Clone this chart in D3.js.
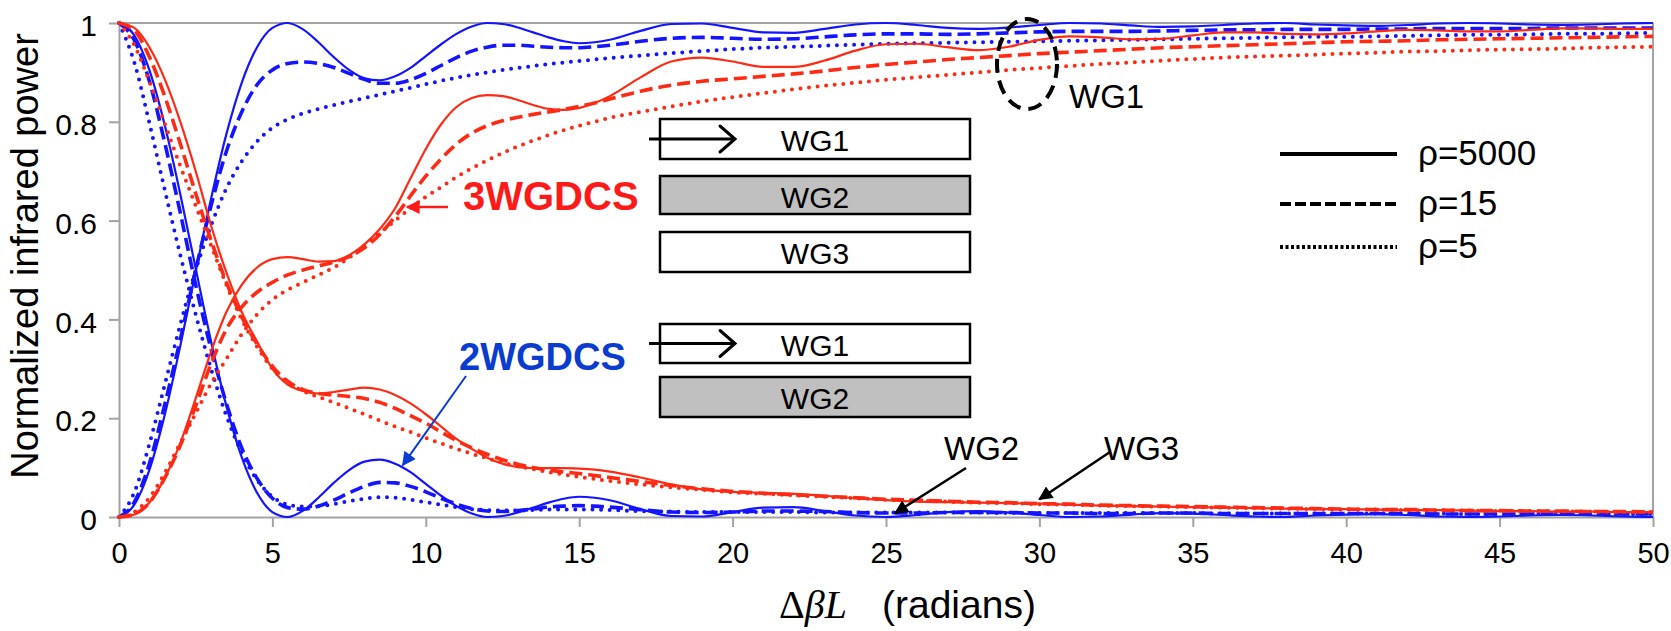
<!DOCTYPE html>
<html>
<head>
<meta charset="utf-8">
<script src="https://cdn.jsdelivr.net/npm/d3@7"></script>
<style>
  body { margin: 0; background: #fff; }
  text { font-family: "Liberation Sans", Arial, sans-serif; }
</style>
</head>
<body>
<svg id="chart"></svg>
<script>
// x grid (ΔβL, radians)
const xValues = [0,0.5,1,1.5,2,2.5,3,3.5,4,4.5,5,5.5,6,6.5,7,7.5,8,8.5,9,9.5,10,10.5,11,11.5,12,12.5,13,13.5,14,14.5,15,15.5,16,
  17,18,19,20,21,22,23,24,25,26,27,28,29,30,31,32,33,34,35,36,37,38,39,40,41,42,43,44,45,46,47,48,49,50];

// 2WGDCS (blue) - WG1 output
const blueWG1_5000 = [0,0.025,0.097,0.209,0.347,0.497,0.644,0.775,0.879,0.951,0.990,1.000,0.987,0.961,0.931,0.905,0.888,0.884,0.892,0.909,0.933,0.957,0.978,0.993,1.000,0.998,0.991,0.981,0.971,0.963,0.959,0.961,0.966,
  0.984,0.998,0.999,0.990,0.981,0.980,0.988,0.997,1.000,0.996,0.990,0.988,0.991,0.996,1.000,0.999,0.995,0.992,0.993,0.996,0.999,1.000,0.997,0.995,0.994,0.996,0.999,1.000,0.999,0.997,0.996,0.997,0.999,1.000];
const blueWG1_15 = [0,0.03,0.11,0.23,0.36,0.50,0.63,0.74,0.82,0.875,0.905,0.918,0.921,0.918,0.91,0.898,0.886,0.878,0.878,0.885,0.898,0.914,0.93,0.943,0.951,0.955,0.955,0.953,0.951,0.95,0.95,0.952,0.955,
  0.963,0.969,0.971,0.969,0.967,0.968,0.972,0.976,0.978,0.978,0.977,0.978,0.98,0.982,0.983,0.983,0.983,0.984,0.985,0.986,0.986,0.987,0.987,0.987,0.988,0.988,0.989,0.989,0.989,0.989,0.99,0.99,0.99,0.99];
const blueWG1_5 = [0,0.05,0.15,0.27,0.39,0.5,0.59,0.665,0.72,0.76,0.788,0.805,0.817,0.826,0.834,0.841,0.848,0.855,0.862,0.869,0.876,0.883,0.889,0.895,0.9,0.905,0.909,0.913,0.917,0.92,0.923,0.926,0.929,
  0.934,0.939,0.943,0.947,0.95,0.952,0.954,0.956,0.958,0.959,0.96,0.961,0.962,0.963,0.964,0.965,0.966,0.967,0.968,0.969,0.97,0.971,0.972,0.972,0.973,0.974,0.975,0.976,0.976,0.977,0.978,0.978,0.979,0.98];

// 2WGDCS (blue) - WG2 output
const blueWG2_5000 = [1,0.975,0.903,0.791,0.653,0.503,0.356,0.225,0.121,0.049,0.010,0.000,0.013,0.039,0.069,0.095,0.112,0.116,0.108,0.091,0.067,0.043,0.022,0.007,0.000,0.002,0.009,0.019,0.029,0.037,0.041,0.039,0.034,
  0.016,0.002,0.001,0.010,0.019,0.020,0.012,0.003,0.000,0.004,0.010,0.012,0.009,0.004,0.000,0.001,0.005,0.008,0.007,0.004,0.001,0.000,0.003,0.005,0.006,0.004,0.001,0.000,0.001,0.003,0.004,0.003,0.001,0.000];
const blueWG2_15 = [1,0.965,0.88,0.755,0.615,0.47,0.34,0.23,0.14,0.078,0.038,0.019,0.016,0.022,0.034,0.049,0.062,0.07,0.069,0.062,0.051,0.038,0.026,0.017,0.012,0.011,0.013,0.016,0.02,0.022,0.023,0.022,0.02,
  0.015,0.01,0.009,0.01,0.012,0.012,0.011,0.009,0.008,0.008,0.009,0.009,0.009,0.008,0.008,0.007,0.007,0.008,0.008,0.007,0.007,0.007,0.007,0.007,0.007,0.007,0.006,0.006,0.006,0.006,0.006,0.006,0.006,0.006];
const blueWG2_5 = [1,0.92,0.795,0.66,0.53,0.41,0.3,0.205,0.13,0.075,0.041,0.025,0.021,0.022,0.026,0.032,0.037,0.04,0.039,0.035,0.03,0.025,0.02,0.016,0.014,0.013,0.013,0.014,0.015,0.015,0.015,0.015,0.014,
  0.012,0.011,0.01,0.01,0.01,0.01,0.009,0.009,0.009,0.009,0.009,0.009,0.008,0.008,0.008,0.008,0.008,0.008,0.008,0.007,0.007,0.007,0.007,0.007,0.007,0.007,0.007,0.006,0.006,0.006,0.006,0.006,0.006,0.006];

// 3WGDCS (red) - WG1 output
const redWG1_5000 = [0,0.005,0.03,0.08,0.15,0.24,0.335,0.415,0.47,0.505,0.522,0.526,0.522,0.517,0.518,0.53,0.552,0.583,0.625,0.685,0.745,0.795,0.83,0.848,0.854,0.852,0.844,0.834,0.826,0.824,0.828,0.838,0.852,
  0.89,0.922,0.93,0.922,0.911,0.911,0.924,0.944,0.957,0.958,0.951,0.945,0.952,0.966,0.973,0.971,0.967,0.968,0.975,0.981,0.981,0.978,0.977,0.979,0.983,0.986,0.985,0.983,0.983,0.986,0.989,0.989,0.988,0.988];
const redWG1_15 = [0,0.006,0.03,0.08,0.145,0.225,0.31,0.38,0.425,0.455,0.475,0.49,0.5,0.508,0.516,0.527,0.545,0.572,0.608,0.65,0.69,0.725,0.755,0.777,0.792,0.802,0.809,0.815,0.82,0.825,0.831,0.838,0.846,
  0.862,0.874,0.882,0.887,0.892,0.897,0.903,0.91,0.916,0.921,0.926,0.93,0.934,0.938,0.941,0.944,0.947,0.95,0.952,0.954,0.956,0.958,0.96,0.962,0.963,0.964,0.966,0.967,0.968,0.969,0.97,0.971,0.972,0.973];
const redWG1_5 = [0,0.01,0.04,0.09,0.15,0.21,0.27,0.32,0.37,0.41,0.44,0.46,0.475,0.49,0.505,0.525,0.55,0.575,0.6,0.625,0.648,0.668,0.688,0.706,0.722,0.737,0.75,0.762,0.773,0.783,0.792,0.8,0.808,
  0.82,0.831,0.841,0.85,0.858,0.866,0.873,0.879,0.885,0.89,0.895,0.9,0.905,0.909,0.913,0.917,0.92,0.924,0.927,0.93,0.932,0.934,0.936,0.938,0.94,0.942,0.943,0.945,0.946,0.947,0.948,0.95,0.951,0.952];

// 3WGDCS (red) - WG3 output
const redWG3_5000 = [1,0.99,0.95,0.885,0.80,0.70,0.59,0.495,0.415,0.355,0.30,0.268,0.255,0.25,0.253,0.258,0.262,0.258,0.247,0.23,0.208,0.183,0.158,0.138,0.12,0.108,0.101,0.099,0.099,0.099,0.098,0.096,0.092,
  0.08,0.066,0.056,0.051,0.049,0.047,0.043,0.038,0.034,0.031,0.03,0.029,0.028,0.027,0.025,0.023,0.022,0.021,0.02,0.019,0.018,0.017,0.016,0.016,0.015,0.014,0.014,0.013,0.012,0.012,0.011,0.011,0.01,0.01];
const redWG3_15 = [1,0.985,0.93,0.85,0.755,0.655,0.56,0.475,0.405,0.35,0.305,0.275,0.258,0.25,0.247,0.244,0.24,0.232,0.22,0.205,0.19,0.172,0.155,0.14,0.127,0.116,0.107,0.1,0.095,0.091,0.088,0.084,0.08,
  0.072,0.064,0.057,0.052,0.048,0.045,0.042,0.039,0.036,0.034,0.032,0.03,0.029,0.027,0.026,0.024,0.023,0.022,0.021,0.02,0.019,0.018,0.017,0.016,0.015,0.015,0.014,0.013,0.013,0.012,0.012,0.011,0.011,0.01];
const redWG3_5 = [1,0.955,0.88,0.795,0.71,0.63,0.55,0.47,0.4,0.345,0.3,0.272,0.255,0.243,0.232,0.22,0.208,0.195,0.183,0.172,0.16,0.149,0.138,0.128,0.119,0.11,0.103,0.097,0.091,0.086,0.081,0.077,0.073,
  0.066,0.06,0.055,0.05,0.047,0.044,0.041,0.038,0.035,0.033,0.031,0.029,0.028,0.026,0.025,0.023,0.022,0.021,0.02,0.019,0.018,0.017,0.016,0.015,0.015,0.014,0.013,0.013,0.012,0.012,0.011,0.011,0.01,0.01];

const xTicks = [0,5,10,15,20,25,30,35,40,45,50];
const yTicks = [0,0.2,0.4,0.6,0.8,1];
const legendLabels = ["ρ=5000","ρ=15","ρ=5"];

const width = 1671, height = 631;
const BLUE = "#1414ff", RED = "#ff2a14", AXIS = "#a3a3a3";

const styles = {
  solid:  { w: 2.2, dash: null, cap: "butt" },
  dashed: { w: 3.6, dash: "13,6", cap: "butt" },
  dotted: { w: 4, dash: "0,8.6", cap: "round" }
};

const series = [
  { v: blueWG2_5,    c: BLUE, s: "dotted" },
  { v: blueWG2_15,   c: BLUE, s: "dashed" },
  { v: blueWG2_5000, c: BLUE, s: "solid" },
  { v: blueWG1_5,    c: BLUE, s: "dotted" },
  { v: blueWG1_15,   c: BLUE, s: "dashed" },
  { v: blueWG1_5000, c: BLUE, s: "solid" },
  { v: redWG3_5,     c: RED,  s: "dotted" },
  { v: redWG3_15,    c: RED,  s: "dashed" },
  { v: redWG3_5000,  c: RED,  s: "solid" },
  { v: redWG1_5,     c: RED,  s: "dotted" },
  { v: redWG1_15,    c: RED,  s: "dashed" },
  { v: redWG1_5000,  c: RED,  s: "solid" }
];

const svg = d3.select("#chart")
  .attr("width", width)
  .attr("height", height)
  .style("background", "#fff");

const x = d3.scaleLinear().domain([0, 50]).range([119, 1653]);
const y = d3.scaleLinear().domain([0, 1]).range([517, 23]);

// plot frame (top & right)
svg.append("line").attr("x1", x(0)).attr("x2", x(50)).attr("y1", y(1)).attr("y2", y(1))
  .attr("stroke", AXIS).attr("stroke-width", 2);
svg.append("line").attr("x1", x(50)).attr("x2", x(50)).attr("y1", y(1)).attr("y2", y(0))
  .attr("stroke", AXIS).attr("stroke-width", 2);

const xAxis = svg.append("g")
  .attr("transform", `translate(0,${y(0)})`)
  .call(d3.axisBottom(x).tickValues(xTicks).tickSize(10).tickSizeOuter(0).tickPadding(15).tickFormat(d3.format("d")));
const yAxis = svg.append("g")
  .attr("transform", `translate(${x(0)},0)`)
  .call(d3.axisLeft(y).tickValues(yTicks).tickSize(10).tickSizeOuter(0).tickPadding(12).tickFormat(d => d === 0 || d === 1 ? d3.format("d")(d) : d3.format(".1f")(d)));

[xAxis, yAxis].forEach(g => {
  g.select(".domain").attr("stroke", AXIS).attr("stroke-width", 2);
  g.selectAll(".tick line").attr("stroke", AXIS).attr("stroke-width", 2);
  g.selectAll(".tick text").attr("fill", "#000").style("font-family", '"Liberation Sans", Arial, sans-serif');
});
xAxis.selectAll(".tick text").style("font-size", "29px");
yAxis.selectAll(".tick text").style("font-size", "30px").attr("dy", "0.42em");

// axis titles
const xt = svg.append("text").attr("x", 779).attr("y", 618)
  .style("font-family", '"Liberation Serif", "Times New Roman", serif').style("font-size", "40px");
xt.append("tspan").text("Δ");
xt.append("tspan").style("font-style", "italic").text("βL");
svg.append("text").attr("x", 882).attr("y", 618).style("font-size", "39px").text("(radians)");

svg.append("text")
  .attr("transform", "translate(38,256) rotate(-90)")
  .attr("text-anchor", "middle")
  .style("font-size", "38px")
  .text("Normalized infrared power");

// curves
const line = d3.line()
  .x((d, i) => x(xValues[i]))
  .y(d => y(d))
  .curve(d3.curveMonotoneX);

svg.append("g").selectAll("path")
  .data(series)
  .join("path")
  .attr("d", d => line(d.v))
  .attr("fill", "none")
  .attr("stroke", d => d.c)
  .attr("stroke-width", d => styles[d.s].w)
  .attr("stroke-dasharray", d => styles[d.s].dash)
  .attr("stroke-linecap", d => styles[d.s].cap)
  .attr("stroke-linejoin", "round");

// arrow markers
const defs = svg.append("defs");
[["headRed", "#ff1a1a"], ["headBlue", "#0a3cd0"], ["headBlack", "#000"]].forEach(([id, col]) => {
  defs.append("marker")
    .attr("id", id)
    .attr("viewBox", "0 0 10 10")
    .attr("refX", 9).attr("refY", 5)
    .attr("markerUnits", "userSpaceOnUse")
    .attr("markerWidth", 17).attr("markerHeight", 14)
    .attr("orient", "auto")
    .append("path").attr("d", "M0,0 L10,5 L0,10 Z").attr("fill", col);
});

// waveguide schematic boxes
const boxes = [
  { y0: 119, y1: 159, label: "WG1", fill: "#fff", arrow: true },
  { y0: 176, y1: 214, label: "WG2", fill: "#c0c0c0", arrow: false },
  { y0: 232, y1: 272, label: "WG3", fill: "#fff", arrow: false },
  { y0: 324, y1: 363, label: "WG1", fill: "#fff", arrow: true },
  { y0: 377, y1: 417, label: "WG2", fill: "#c0c0c0", arrow: false }
];
const bx0 = 660, bx1 = 970;
boxes.forEach(b => {
  svg.append("rect").attr("x", bx0).attr("y", b.y0).attr("width", bx1 - bx0).attr("height", b.y1 - b.y0)
    .attr("fill", b.fill).attr("stroke", "#000").attr("stroke-width", 2.5);
  svg.append("text").attr("x", (bx0 + bx1) / 2).attr("y", b.y0 + 32)
    .attr("text-anchor", "middle").style("font-size", "30px").text(b.label);
  if (b.arrow) {
    const cy = (b.y0 + b.y1) / 2;
    svg.append("line").attr("x1", 649).attr("x2", 734).attr("y1", cy).attr("y2", cy)
      .attr("stroke", "#000").attr("stroke-width", 3);
    svg.append("path").attr("d", `M720,${cy - 13} L735,${cy} L720,${cy + 13}`)
      .attr("fill", "none").attr("stroke", "#000").attr("stroke-width", 3).attr("stroke-linecap", "round");
  }
});

// 3WGDCS label
svg.append("text").attr("x", 463).attr("y", 210).attr("fill", "#ff1a1a")
  .style("font-size", "40px").style("font-weight", "bold").text("3WGDCS");
svg.append("line").attr("x1", 448).attr("y1", 207).attr("x2", 407).attr("y2", 207)
  .attr("stroke", "#ff1a1a").attr("stroke-width", 2.5).attr("marker-end", "url(#headRed)");

// 2WGDCS label
svg.append("text").attr("x", 459).attr("y", 370).attr("fill", "#0a3cd0")
  .style("font-size", "38px").style("font-weight", "bold").text("2WGDCS");
svg.append("line").attr("x1", 466).attr("y1", 376).attr("x2", x(9.25)).attr("y2", y(0.105))
  .attr("stroke", "#0a3cd0").attr("stroke-width", 2).attr("marker-end", "url(#headBlue)");

// WG2 / WG3 pointers
svg.append("text").attr("x", 944).attr("y", 460).style("font-size", "33px").text("WG2");
svg.append("line").attr("x1", 966).attr("y1", 468).attr("x2", x(25.3)).attr("y2", y(0.008))
  .attr("stroke", "#000").attr("stroke-width", 2.5).attr("marker-end", "url(#headBlack)");
svg.append("text").attr("x", 1104).attr("y", 460).style("font-size", "33px").text("WG3");
svg.append("line").attr("x1", 1110).attr("y1", 452).attr("x2", x(30)).attr("y2", y(0.036))
  .attr("stroke", "#000").attr("stroke-width", 2.5).attr("marker-end", "url(#headBlack)");

// WG1 dashed ellipse
svg.append("ellipse").attr("cx", 1027).attr("cy", 64).attr("rx", 30).attr("ry", 45)
  .attr("fill", "none").attr("stroke", "#000").attr("stroke-width", 4).attr("stroke-dasharray", "14,8");
svg.append("text").attr("x", 1069).attr("y", 108).style("font-size", "33px").text("WG1");

// legend
const legendDash = ["", "11,4", "3,2.5"];
const legend = svg.append("g").selectAll("g")
  .data(legendLabels)
  .join("g")
  .attr("transform", (d, i) => `translate(0,${[154, 204, 247][i]})`);
legend.append("line")
  .attr("x1", 1280).attr("x2", 1397)
  .attr("stroke", "#000").attr("stroke-width", 4)
  .attr("stroke-dasharray", (d, i) => legendDash[i] || null);
legend.append("text")
  .attr("x", 1418).attr("y", 11)
  .style("font-size", "35px")
  .text(d => d);
</script>
</body>
</html>
